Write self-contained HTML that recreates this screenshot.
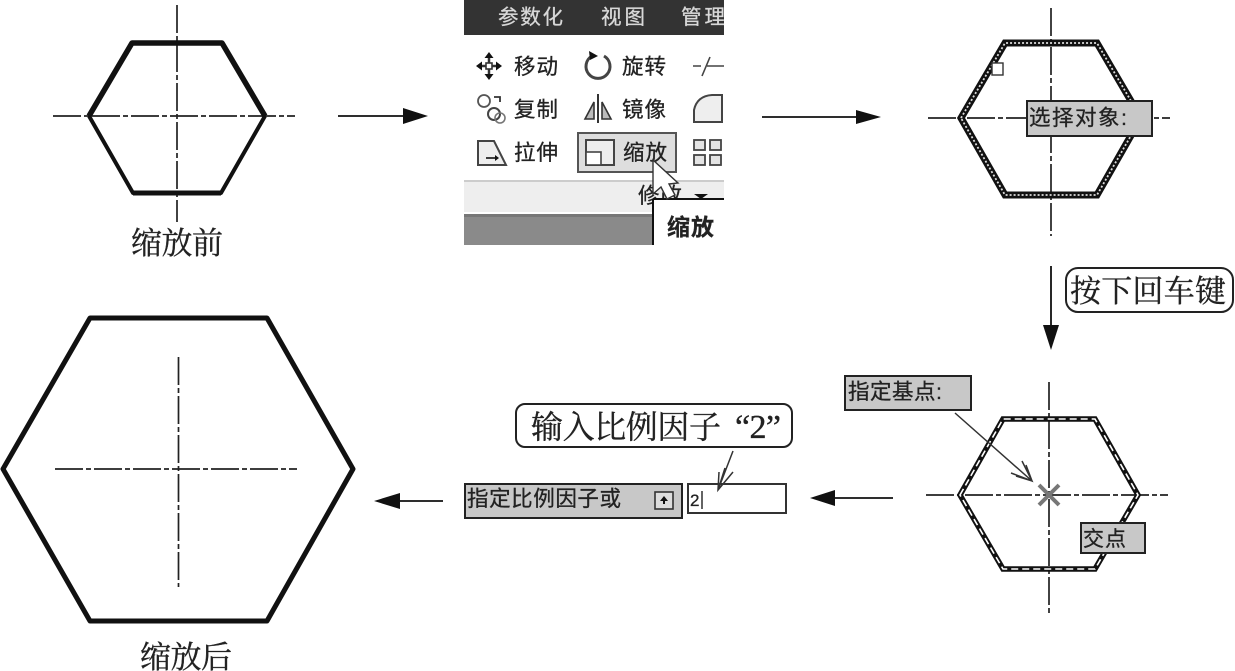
<!DOCTYPE html>
<html><head><meta charset="utf-8"><style>
html,body{margin:0;padding:0;background:#fff}
svg{display:block;filter:blur(.35px)}
text{font-family:"Liberation Sans","Noto Sans CJK SC",sans-serif;fill:#222;stroke:#222;stroke-width:.3}
.s{font-family:"Liberation Serif","Noto Serif CJK SC",serif;fill:#222;stroke:#222;stroke-width:.35}
.c{stroke:#222;stroke-width:1.7;stroke-dasharray:28 3 5 3;fill:none}
.t{stroke:#111;stroke-width:5.5;fill:none;stroke-linejoin:round}
.n{stroke:#111;stroke-width:4;fill:none;stroke-linejoin:round}
.l{stroke:#111;stroke-width:1.8;fill:none}
.h{fill:#111}
.b{fill:#c8c8c8;stroke:#222;stroke-width:2}
.w{fill:#d8d8d8;stroke:#d8d8d8;stroke-width:.3}
</style></head><body>
<svg width="1235" height="671" viewBox="0 0 1235 671" xmlns="http://www.w3.org/2000/svg">
<defs><clipPath id="tb"><rect x="464" y="0" width="260" height="245"/></clipPath></defs>

<!-- before -->
<path class="c" d="M177 5V222M53 116H295"/>
<path class="n" d="M89 116L133 193H221L265 116"/>
<path class="n" style="stroke-width:5" d="M133 193H221"/>
<path class="t" d="M89 116L132 43H222L265 116"/>
<text class="s" x="131" y="254" font-size="31" textLength="92">缩放前</text>

<!-- arrows -->
<path class="l" d="M338 116H405"/><path class="h" d="M403 108L428 116L403 124Z"/>
<path class="l" d="M762 117H858"/><path class="h" d="M856 110L881 117L856 124Z"/>
<path class="l" d="M1051 266V326"/><path class="h" d="M1043 325H1059L1051 350Z"/>
<path class="l" d="M893 498H833"/><path class="h" d="M835 490L810 498L835 506Z"/>
<path class="l" d="M443 501H398"/><path class="h" d="M400 493L374 501L400 509Z"/>

<!-- toolbar -->
<g clip-path="url(#tb)">
<rect x="464" y="0" width="260" height="35" fill="#333"/>
<g font-size="20.5">
<text class="w" x="498" y="24" textLength="65">参数化</text>
<text class="w" x="601" y="24" textLength="44">视图</text>
<text class="w" x="681" y="24" textLength="44">管理</text>
</g>
<rect x="464" y="180" width="260" height="32" fill="#eee"/>
<rect x="464" y="180" width="260" height="2" fill="#ccc"/>
<rect x="464" y="214" width="189" height="31" fill="#8a8a8a"/>
<rect x="464" y="214" width="189" height="3" fill="#777"/>
<rect x="578" y="133" width="98" height="39" fill="#dedede" stroke="#555" stroke-width="2"/>
<g font-size="21.5">
<text x="514" y="74" textLength="44">移动</text>
<text x="622" y="74" textLength="44">旋转</text>
<text x="514" y="117" textLength="44">复制</text>
<text x="622" y="117" textLength="44">镜像</text>
<text x="514" y="160" textLength="44">拉伸</text>
<text x="623" y="160" textLength="44">缩放</text>
<text x="638" y="203" textLength="44">修改</text>
</g>
<!-- move -->
<path d="M478 66H500M489 55V78" stroke="#333" stroke-width="2.5" fill="none"/>
<rect x="486" y="63" width="6" height="6" fill="#fff" stroke="#333" stroke-width="1.6"/>
<path class="h" d="M476 66l6-4.500v9ZM502 66l-6-4.500v9ZM489 52l-4.500 6h9ZM489 80l-4.500-6h9Z"/>
<!-- rotate -->
<path d="M592 56A12 12 0 1 0 604 56" fill="none" stroke="#444" stroke-width="3"/>
<path class="h" d="M589 51l9 5-8 4Z"/>
<!-- trim -->
<path d="M693 66h8M710 57l-8 19M707 66h17" fill="none" stroke="#444" stroke-width="1.6"/>
<!-- copy -->
<circle cx="484" cy="101" r="6" fill="none" stroke="#555" stroke-width="1.8"/>
<circle cx="494" cy="114" r="6" fill="none" stroke="#444" stroke-width="2"/>
<circle cx="500" cy="118" r="5" fill="none" stroke="#777" stroke-width="1.6"/>
<path d="M494 97h6v5" fill="none" stroke="#333" stroke-width="1.8"/>
<!-- mirror -->
<path d="M598 94V123" stroke="#333" stroke-width="2"/>
<path d="M594 102V119H585ZM602 102V119H611Z" fill="#bbb" stroke="#333" stroke-width="1.6"/>
<!-- fillet -->
<path d="M694 122V110Q697 96 712 95H722V122Z" fill="#eee" stroke="#444" stroke-width="2"/>
<!-- stretch -->
<path d="M478 141H494L506 165H478Z" fill="#eee" stroke="#444" stroke-width="2"/>
<path d="M486 158H497" stroke="#111" stroke-width="1.6"/><path class="h" d="M499 158l-4-3v6Z"/>
<!-- scale -->
<rect x="586" y="140" width="28" height="25" fill="#eee" stroke="#444" stroke-width="2"/>
<rect x="586" y="152" width="15" height="13" fill="#fff" stroke="#444" stroke-width="1.6"/>
<!-- array -->
<g fill="#e4e4e4" stroke="#444" stroke-width="1.8">
<rect x="694" y="140" width="11" height="10"/><rect x="710" y="140" width="11" height="10"/>
<rect x="694" y="155" width="11" height="10"/><rect x="710" y="155" width="11" height="10"/>
</g>
<path class="h" d="M694 194h14l-7 5Z"/>
<!-- tooltip -->
<rect x="653" y="199" width="72" height="46" fill="#fff"/>
<path d="M653 199V245M653 199H724" stroke="#111" stroke-width="2" fill="none"/>
<text x="667" y="235" font-size="23" font-weight="bold" textLength="47">缩放</text>
<!-- cursor -->
<path d="M653 160V194L661 187L667 199L675 195L669 184L678 183Z" fill="#fff" stroke="#333" stroke-width="1.4"/>
</g>

<!-- selected -->
<path class="c" d="M1051 8V236M928 118H1170"/>
<path d="M961 118L1005 43H1097L1141 118L1097 195H1005Z" fill="none" stroke="#111" stroke-width="7"/>
<path d="M961 118L1005 43H1097L1141 118L1097 195H1005Z" fill="none" stroke="#ddd" stroke-width="1.8" stroke-dasharray="2 2"/>
<rect x="992" y="63" width="11" height="12" fill="#fff" stroke="#333" stroke-width="1.4"/>
<rect class="b" x="1027" y="101" width="125" height="35"/>
<text x="1029" y="125" font-size="21.5" textLength="98">选择对象:</text>

<!-- bubble -->
<rect x="1066" y="268" width="167" height="44" rx="12" fill="#fff" stroke="#222" stroke-width="2"/>
<text class="s" x="1070" y="302" font-size="31" textLength="156">按下回车键</text>

<!-- base point -->
<path class="c" d="M1049 382V613M926 495H1168"/>
<path d="M960 495L1003 419H1095L1138 495L1095 569H1003Z" fill="none" stroke="#111" stroke-width="5.5"/>
<path d="M960 495L1003 419H1095L1138 495L1095 569H1003Z" fill="none" stroke="#fff" stroke-width="1.6" stroke-dasharray="7 4"/>
<path d="M1039 485L1059 505M1059 485L1039 505" stroke="#777" stroke-width="4" fill="none"/>
<path d="M955 413L1032 481M1022 461L1032 481L1011 473M1026 465L1032 481L1016 476" stroke="#333" stroke-width="1.5" fill="none"/>
<rect class="b" x="845" y="376" width="126" height="34"/>
<text x="848" y="399" font-size="21.5" textLength="94">指定基点:</text>
<rect class="b" x="1081" y="523" width="64" height="30"/>
<text x="1083" y="546" font-size="21" textLength="43">交点</text>

<!-- input -->
<rect x="516" y="404" width="276" height="43" rx="9" fill="#fff" stroke="#222" stroke-width="2"/>
<text class="s" x="531" y="438" font-size="32" textLength="190">输入比例因子</text>
<text class="s" x="735" y="438" font-size="34" textLength="46">“2”</text>
<rect class="b" x="465" y="484" width="217" height="34"/>
<text x="467" y="506" font-size="21.5" textLength="154">指定比例因子或</text>
<rect x="655" y="492" width="18" height="17" fill="#ddd" stroke="#333" stroke-width="1.6"/>
<path class="h" d="M664 496l-4 5h3v3h2v-3h3Z"/>
<rect x="688" y="484" width="98" height="29" fill="#fff" stroke="#333" stroke-width="2"/>
<text x="690" y="506" font-size="17">2</text>
<path d="M702 491V509" stroke="#222" stroke-width="1.4"/>
<path d="M733 451L718 490M719 472L718 490L733 472M725 468L718 490" stroke="#333" stroke-width="1.5" fill="none"/>

<!-- after -->
<path class="c" d="M178.500 357V587M55 469H297"/>
<path d="M3 469L90 318H267L353 469L267 621H90Z" fill="none" stroke="#111" stroke-width="5" stroke-linejoin="round"/>
<text class="s" x="140" y="668" font-size="31" textLength="92">缩放后</text>
</svg>
</body></html>
